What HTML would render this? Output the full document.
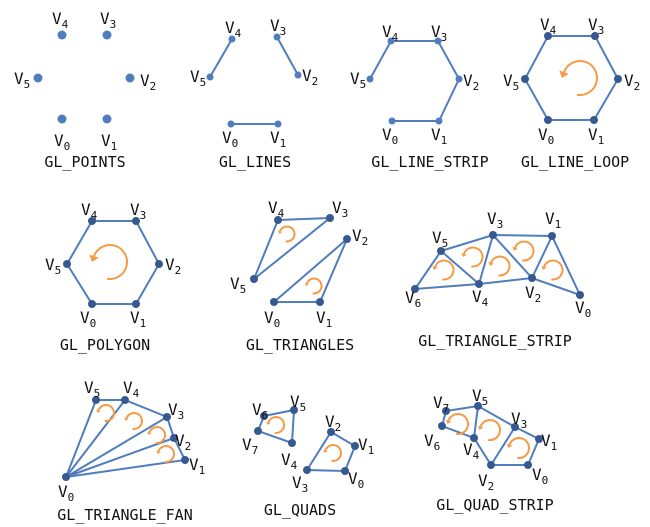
<!DOCTYPE html>
<html><head><meta charset="utf-8"><style>
html,body{margin:0;padding:0;background:#fff}
svg{display:block}
text{font-family:"DejaVu Sans Mono","Liberation Mono",monospace;fill:#111;font-size:16px}
.t{font-size:15px}
.ln{stroke:#4f7dbd;stroke-width:2;fill:none}
.d{fill:#36598f}
.l{fill:#4f7dbd}
</style></head><body>
<svg width="650" height="527" viewBox="0 0 650 527" xmlns="http://www.w3.org/2000/svg">
<defs>
<g id="arc">
<path d="M -1.74 9.85 A 10 10 0 1 0 -9.40 -3.42" stroke="#f59a45" fill="none" stroke-width="2" vector-effect="non-scaling-stroke"/>
<polygon points="-10.6,-0.1 -6.6,-2.4 -12.2,-4.4" fill="#f59a45"/>
</g>
</defs>

<!-- GL_POINTS -->
<g class="l">
<circle cx="62" cy="35" r="4.5"/><circle cx="107" cy="35" r="4.5"/><circle cx="38" cy="78" r="4.5"/>
<circle cx="130" cy="78" r="4.5"/><circle cx="62" cy="119" r="4.5"/><circle cx="107" cy="119" r="4.5"/>
</g>
<text x="52" y="24">V<tspan dy="4" font-size="11">4</tspan></text>
<text x="100" y="24">V<tspan dy="4" font-size="11">3</tspan></text>
<text x="14" y="84">V<tspan dy="4" font-size="11">5</tspan></text>
<text x="140" y="86">V<tspan dy="4" font-size="11">2</tspan></text>
<text x="54" y="146">V<tspan dy="4" font-size="11">0</tspan></text>
<text x="101" y="146">V<tspan dy="4" font-size="11">1</tspan></text>
<text class="t" x="85" y="167" text-anchor="middle">GL_POINTS</text>

<!-- GL_LINES -->
<path class="ln" d="M210 77 L232 39 M277 37 L298 75 M231 124 L278 124"/>
<g class="l">
<circle cx="232" cy="39" r="3.5"/><circle cx="277" cy="37" r="3.5"/><circle cx="210" cy="77" r="3.5"/>
<circle cx="298" cy="75" r="3.5"/><circle cx="231" cy="124" r="3.5"/><circle cx="278" cy="124" r="3.5"/>
</g>
<text x="225" y="33">V<tspan dy="4" font-size="11">4</tspan></text>
<text x="270" y="31">V<tspan dy="4" font-size="11">3</tspan></text>
<text x="190" y="82">V<tspan dy="4" font-size="11">5</tspan></text>
<text x="302" y="81">V<tspan dy="4" font-size="11">2</tspan></text>
<text x="222" y="143">V<tspan dy="4" font-size="11">0</tspan></text>
<text x="270" y="143">V<tspan dy="4" font-size="11">1</tspan></text>
<text class="t" x="255" y="167" text-anchor="middle">GL_LINES</text>

<!-- GL_LINE_STRIP -->
<path class="ln" d="M392 121 L439 121 L459 79 L438 41 L391 41 L370 79"/>
<g class="l">
<circle cx="391" cy="41" r="3.5"/><circle cx="438" cy="41" r="3.5"/><circle cx="370" cy="79" r="3.5"/>
<circle cx="459" cy="79" r="3.5"/><circle cx="392" cy="121" r="3.5"/><circle cx="439" cy="121" r="3.5"/>
</g>
<text x="382" y="37">V<tspan dy="4" font-size="11">4</tspan></text>
<text x="431" y="37">V<tspan dy="4" font-size="11">3</tspan></text>
<text x="350" y="84">V<tspan dy="4" font-size="11">5</tspan></text>
<text x="463" y="86">V<tspan dy="4" font-size="11">2</tspan></text>
<text x="382" y="140">V<tspan dy="4" font-size="11">0</tspan></text>
<text x="431" y="140">V<tspan dy="4" font-size="11">1</tspan></text>
<text class="t" x="430" y="167" text-anchor="middle">GL_LINE_STRIP</text>

<!-- GL_LINE_LOOP -->
<path class="ln" d="M548 120 L594 120 L618 79 L595 36 L548 36 L525 79 Z"/>
<g class="d">
<circle cx="548" cy="36" r="4"/><circle cx="595" cy="36" r="4"/><circle cx="525" cy="79" r="4"/>
<circle cx="618" cy="79" r="4"/><circle cx="548" cy="120" r="4"/><circle cx="594" cy="120" r="4"/>
</g>
<use href="#arc" transform="translate(580,78) scale(1.7)"/>
<text x="540" y="30">V<tspan dy="4" font-size="11">4</tspan></text>
<text x="588" y="30">V<tspan dy="4" font-size="11">3</tspan></text>
<text x="503" y="86">V<tspan dy="4" font-size="11">5</tspan></text>
<text x="624" y="86">V<tspan dy="4" font-size="11">2</tspan></text>
<text x="538" y="140">V<tspan dy="4" font-size="11">0</tspan></text>
<text x="588" y="140">V<tspan dy="4" font-size="11">1</tspan></text>
<text class="t" x="575" y="167" text-anchor="middle">GL_LINE_LOOP</text>

<!-- GL_POLYGON -->
<path class="ln" d="M92 304 L136 304 L159 264 L136 221 L92 221 L67 264 Z"/>
<g class="d">
<circle cx="92" cy="221" r="4"/><circle cx="136" cy="221" r="4"/><circle cx="67" cy="264" r="4"/>
<circle cx="159" cy="264" r="4"/><circle cx="92" cy="304" r="4"/><circle cx="136" cy="304" r="4"/>
</g>
<use href="#arc" transform="translate(110,262) scale(1.7)"/>
<text x="81" y="215">V<tspan dy="4" font-size="11">4</tspan></text>
<text x="130" y="215">V<tspan dy="4" font-size="11">3</tspan></text>
<text x="45" y="270">V<tspan dy="4" font-size="11">5</tspan></text>
<text x="165" y="270">V<tspan dy="4" font-size="11">2</tspan></text>
<text x="80" y="323">V<tspan dy="4" font-size="11">0</tspan></text>
<text x="130" y="323">V<tspan dy="4" font-size="11">1</tspan></text>
<text class="t" x="105" y="350" text-anchor="middle">GL_POLYGON</text>

<!-- GL_TRIANGLES -->
<path class="ln" d="M278 220 L330 218 L254 279 Z M347 239 L274 302 L320 302 Z"/>
<g class="d">
<circle cx="278" cy="220" r="4"/><circle cx="330" cy="218" r="4"/><circle cx="254" cy="279" r="4"/>
<circle cx="347" cy="239" r="4"/><circle cx="274" cy="302" r="4"/><circle cx="320" cy="302" r="4"/>
</g>
<use href="#arc" transform="translate(287,234) scale(0.75)"/>
<use href="#arc" transform="translate(314,286) scale(0.75)"/>
<text x="268" y="213">V<tspan dy="4" font-size="11">4</tspan></text>
<text x="332" y="213">V<tspan dy="4" font-size="11">3</tspan></text>
<text x="352" y="241">V<tspan dy="4" font-size="11">2</tspan></text>
<text x="230" y="289">V<tspan dy="4" font-size="11">5</tspan></text>
<text x="264" y="323">V<tspan dy="4" font-size="11">0</tspan></text>
<text x="316" y="323">V<tspan dy="4" font-size="11">1</tspan></text>
<text class="t" x="300" y="350" text-anchor="middle">GL_TRIANGLES</text>

<!-- GL_TRIANGLE_STRIP -->
<path class="ln" d="M415 289 L441 251 L493 235 L552 236 L580 295 L532 278 L479 284 Z M441 251 L479 284 L493 235 L532 278 L552 236"/>
<g class="d">
<circle cx="441" cy="251" r="4"/><circle cx="493" cy="235" r="4"/><circle cx="552" cy="236" r="4"/>
<circle cx="415" cy="289" r="4"/><circle cx="479" cy="284" r="4"/><circle cx="532" cy="278" r="4"/><circle cx="580" cy="295" r="4"/>
</g>
<use href="#arc" transform="translate(444,270) scale(0.95)"/>
<use href="#arc" transform="translate(473,257) scale(0.95)"/>
<use href="#arc" transform="translate(500,266) scale(0.95)"/>
<use href="#arc" transform="translate(524,251) scale(0.95)"/>
<use href="#arc" transform="translate(553,270) scale(0.95)"/>
<text x="432" y="243">V<tspan dy="4" font-size="11">5</tspan></text>
<text x="487" y="224">V<tspan dy="4" font-size="11">3</tspan></text>
<text x="545" y="224">V<tspan dy="4" font-size="11">1</tspan></text>
<text x="405" y="303">V<tspan dy="4" font-size="11">6</tspan></text>
<text x="472" y="302">V<tspan dy="4" font-size="11">4</tspan></text>
<text x="525" y="298">V<tspan dy="4" font-size="11">2</tspan></text>
<text x="575" y="313">V<tspan dy="4" font-size="11">0</tspan></text>
<text class="t" x="495" y="346" text-anchor="middle">GL_TRIANGLE_STRIP</text>

<!-- GL_TRIANGLE_FAN -->
<path class="ln" d="M66 477 L96 400 L125 400 L167 417 L174 438 L185 460 Z M66 477 L125 400 M66 477 L167 417 M66 477 L174 438"/>
<g class="d">
<circle cx="96" cy="400" r="4"/><circle cx="125" cy="400" r="4"/><circle cx="167" cy="417" r="4"/>
<circle cx="174" cy="438" r="4"/><circle cx="185" cy="460" r="4"/><circle cx="66" cy="477" r="4"/>
</g>
<use href="#arc" transform="translate(106,413) scale(0.8)"/>
<use href="#arc" transform="translate(134,421) scale(0.8)"/>
<use href="#arc" transform="translate(157,435) scale(0.8)"/>
<use href="#arc" transform="translate(166,454) scale(0.8)"/>
<text x="84" y="393">V<tspan dy="4" font-size="11">5</tspan></text>
<text x="123" y="393">V<tspan dy="4" font-size="11">4</tspan></text>
<text x="168" y="415">V<tspan dy="4" font-size="11">3</tspan></text>
<text x="175" y="446">V<tspan dy="4" font-size="11">2</tspan></text>
<text x="189" y="470">V<tspan dy="4" font-size="11">1</tspan></text>
<text x="58" y="497">V<tspan dy="4" font-size="11">0</tspan></text>
<text class="t" x="125" y="520" text-anchor="middle">GL_TRIANGLE_FAN</text>

<!-- GL_QUADS -->
<path class="ln" d="M264 416 L294 410 L292 443 L258 431 Z M331 432 L355 446 L345 471 L307 470 Z"/>
<g class="d">
<circle cx="264" cy="416" r="4"/><circle cx="294" cy="410" r="4"/><circle cx="258" cy="431" r="4"/><circle cx="292" cy="443" r="4"/>
<circle cx="331" cy="432" r="4"/><circle cx="355" cy="446" r="4"/><circle cx="307" cy="470" r="4"/><circle cx="345" cy="471" r="4"/>
</g>
<use href="#arc" transform="translate(276,425) scale(0.8)"/>
<use href="#arc" transform="translate(333,453) scale(0.8)"/>
<text x="252" y="415">V<tspan dy="4" font-size="11">6</tspan></text>
<text x="290" y="407">V<tspan dy="4" font-size="11">5</tspan></text>
<text x="242" y="450">V<tspan dy="4" font-size="11">7</tspan></text>
<text x="281" y="465">V<tspan dy="4" font-size="11">4</tspan></text>
<text x="325" y="427">V<tspan dy="4" font-size="11">2</tspan></text>
<text x="358" y="450">V<tspan dy="4" font-size="11">1</tspan></text>
<text x="292" y="488">V<tspan dy="4" font-size="11">3</tspan></text>
<text x="348" y="484">V<tspan dy="4" font-size="11">0</tspan></text>
<text class="t" x="300" y="515" text-anchor="middle">GL_QUADS</text>

<!-- GL_QUAD_STRIP -->
<path class="ln" d="M446 411 L478 406 L515 427 L539 439 L528 465 L491 465 L474 438 L442 426 Z M478 406 L474 438 M515 427 L491 465"/>
<g class="d">
<circle cx="446" cy="411" r="4"/><circle cx="478" cy="406" r="4"/><circle cx="442" cy="426" r="4"/><circle cx="515" cy="427" r="4"/>
<circle cx="474" cy="438" r="4"/><circle cx="539" cy="439" r="4"/><circle cx="491" cy="465" r="4"/><circle cx="528" cy="465" r="4"/>
</g>
<use href="#arc" transform="translate(458,424) scale(1.0)"/>
<use href="#arc" transform="translate(490,430) scale(1.0)"/>
<use href="#arc" transform="translate(519,448) scale(1.0)"/>
<text x="433" y="408">V<tspan dy="4" font-size="11">7</tspan></text>
<text x="472" y="401">V<tspan dy="4" font-size="11">5</tspan></text>
<text x="424" y="446">V<tspan dy="4" font-size="11">6</tspan></text>
<text x="511" y="424">V<tspan dy="4" font-size="11">3</tspan></text>
<text x="463" y="455">V<tspan dy="4" font-size="11">4</tspan></text>
<text x="541" y="446">V<tspan dy="4" font-size="11">1</tspan></text>
<text x="478" y="486">V<tspan dy="4" font-size="11">2</tspan></text>
<text x="532" y="480">V<tspan dy="4" font-size="11">0</tspan></text>
<text class="t" x="495" y="510" text-anchor="middle">GL_QUAD_STRIP</text>
</svg>
</body></html>
